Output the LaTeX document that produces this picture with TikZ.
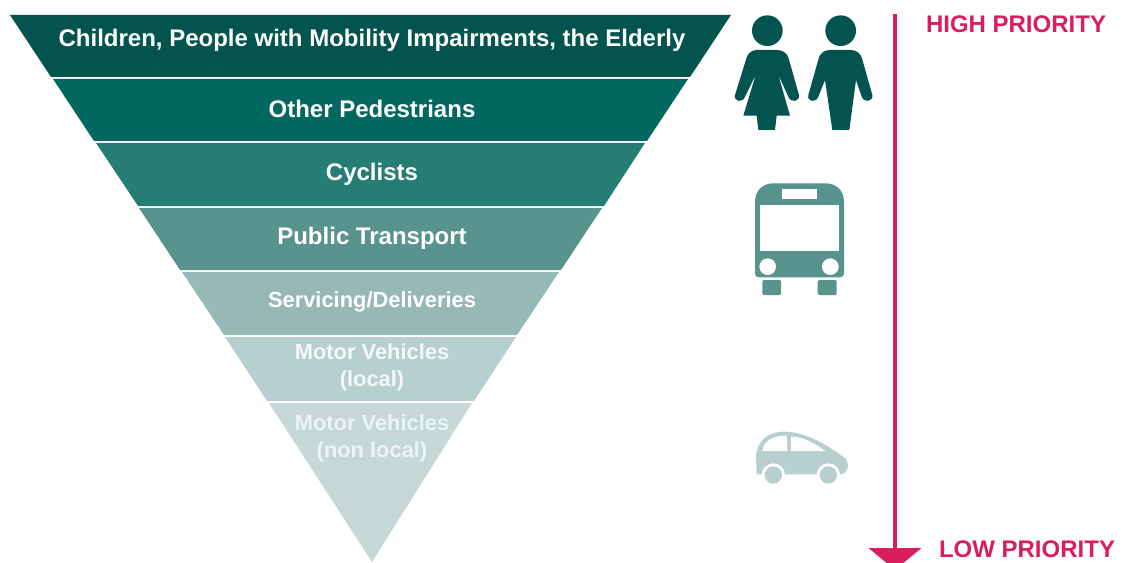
\documentclass[tikz,border=0pt]{standalone}
\usepackage{fontspec}
\setmainfont{Liberation Sans}
\usetikzlibrary{arrows.meta}
\definecolor{band_a}{HTML}{03534E}
\definecolor{band_b}{HTML}{00685F}
\definecolor{band_c}{HTML}{267D74}
\definecolor{band_d}{HTML}{58938D}
\definecolor{band_e}{HTML}{97B9B5}
\definecolor{band_f}{HTML}{B8CFCF}
\definecolor{band_g}{HTML}{C5D8D5}
\definecolor{prio_red}{HTML}{D81E5B}

\begin{document}
\begin{tikzpicture}[x=.75pt,y=-.75pt,
	big_text/.style={text=white,font=\bfseries\fontsize{18}{20.25}\selectfont,align=center,inner sep=0pt},
	small_text/.style={big_text,font=\bfseries\fontsize{16.4}{20.25}\selectfont},
	prio_text/.style={text=prio_red,font=\bfseries\fontsize{18}{20}\selectfont,inner sep=0pt},
	prio_line/.style={draw=prio_red,line width=3.2pt,-{Triangle[length=16.5pt,width=39pt]}}]

	\clip (0,0) rectangle (1123,563);

	% the bands
	\fill[band_a] (10,15) -- (731,15) -- (690,77) -- (51,77) -- cycle;
	\fill[band_b] (53,79) -- (688,79) -- (647,141) -- (94,141) -- cycle;
	\fill[band_c] (96,143) -- (645,143) -- (604,206) -- (138,206) -- cycle;
	\fill[band_d] (139,208) -- (602,208) -- (561,270) -- (180,270) -- cycle;
	\fill[band_e] (182,272) -- (559,272) -- (517,335) -- (224,335) -- cycle;
	\fill[band_f] (225,337) -- (516,337) -- (474,401) -- (267,401) -- cycle;
	\fill[band_g] (269,403) -- (472,403) -- (372,562) -- cycle;

	\node[big_text] (children) at (372,40) {Children, People with Mobility Impairments, the Elderly};
	\node[big_text] (pedestrians) at (372,109) {Other Pedestrians};
	\node[big_text] (cyclists) at (372,174) {Cyclists};
	\node[big_text] (transport) at (372,238) {Public Transport};
	\node[small_text] (servicing) at (372,302) {Servicing/Deliveries};
	\node[small_text,text=white!85!band_f] (local) at (372,367) {Motor Vehicles\\(local)};
	\node[small_text,text=white!70!band_g] (nonlocal) at (372,438) {Motor Vehicles\\(non local)};

	% woman and man
	\begin{scope}[shift={(720,0)},x=.25pt,y=-.25pt]
		\fill[band_a] (142,92) circle (46*.25pt);
		\fill[band_a] (110,150) -- (170,150) .. controls (190,150) and (200,160) .. (205,172)
			-- (237,285) .. controls (240,305) and (212,310) .. (205,290) -- (175,225)
			-- (210,347) -- (170,347) -- (165,390) -- (115,390) -- (110,347) -- (70,347) -- (107,225)
			-- (75,290) .. controls (68,310) and (40,305) .. (45,285)
			-- (80,172) .. controls (85,160) and (95,150) .. (110,150) -- cycle;
		\fill[band_a] (362,92) circle (46*.25pt);
		\fill[band_a] (330,150) -- (392,150) .. controls (410,150) and (420,160) .. (425,172)
			-- (457,285) .. controls (460,305) and (432,310) .. (425,290) -- (408,240)
			-- (388,390) -- (337,390) -- (315,240)
			-- (295,290) .. controls (288,310) and (260,305) .. (265,285)
			-- (297,172) .. controls (302,160) and (312,150) .. (330,150) -- cycle;
	\end{scope}

	% bus
	\begin{scope}[shift={(730,170)},x=.25pt,y=-.25pt]
		\fill[band_d] (75,310) -- (75,95) .. controls (75,60) and (100,40) .. (130,40) -- (287,40)
			.. controls (317,40) and (342,60) .. (342,95) -- (342,310)
			.. controls (342,318) and (338,322) .. (330,322) -- (87,322) .. controls (79,322) and (75,318) .. (75,310) -- cycle;
		\fill[white] (90,106) rectangle (327,243);
		\fill[white] (155,58) rectangle (260,88);
		\fill[white] (113,290) circle (25*.25pt);
		\fill[white] (301,290) circle (25*.25pt);
		\fill[band_d,rounded corners=1pt] (97,330) rectangle (153,375);
		\fill[band_d,rounded corners=1pt] (263,330) rectangle (320,375);
	\end{scope}

	% car
	\begin{scope}[shift={(730,415)},x=.25pt,y=-.25pt]
		\fill[band_f] (80,178) -- (78,125) .. controls (80,85) and (105,52) .. (160,50)
			.. controls (230,50) and (290,90) .. (340,125)
			.. controls (358,140) and (358,160) .. (345,172) -- (335,178) -- cycle;
		\fill[white] (130,180) circle (35*.25pt);
		\fill[white] (295,180) circle (35*.25pt);
		\fill[band_f] (130,180) circle (26*.25pt);
		\fill[band_f] (295,180) circle (26*.25pt);
		\fill[white] (97,108) .. controls (100,80) and (125,62) .. (170,62) -- (172,108) -- cycle;
		\fill[white] (183,108) -- (183,65) .. controls (220,65) and (255,85) .. (285,108) -- cycle;
	\end{scope}

	% priority arrow
	\coordinate (high) at (895,14);
	\coordinate (low) at (895,570);
	\draw[prio_line] (high) -- (low);
	\node[prio_text] (high_text) at (1016,24) {HIGH PRIORITY};
	\node[prio_text] (low_text) at (1027,549) {LOW PRIORITY};
\end{tikzpicture}
\end{document}
